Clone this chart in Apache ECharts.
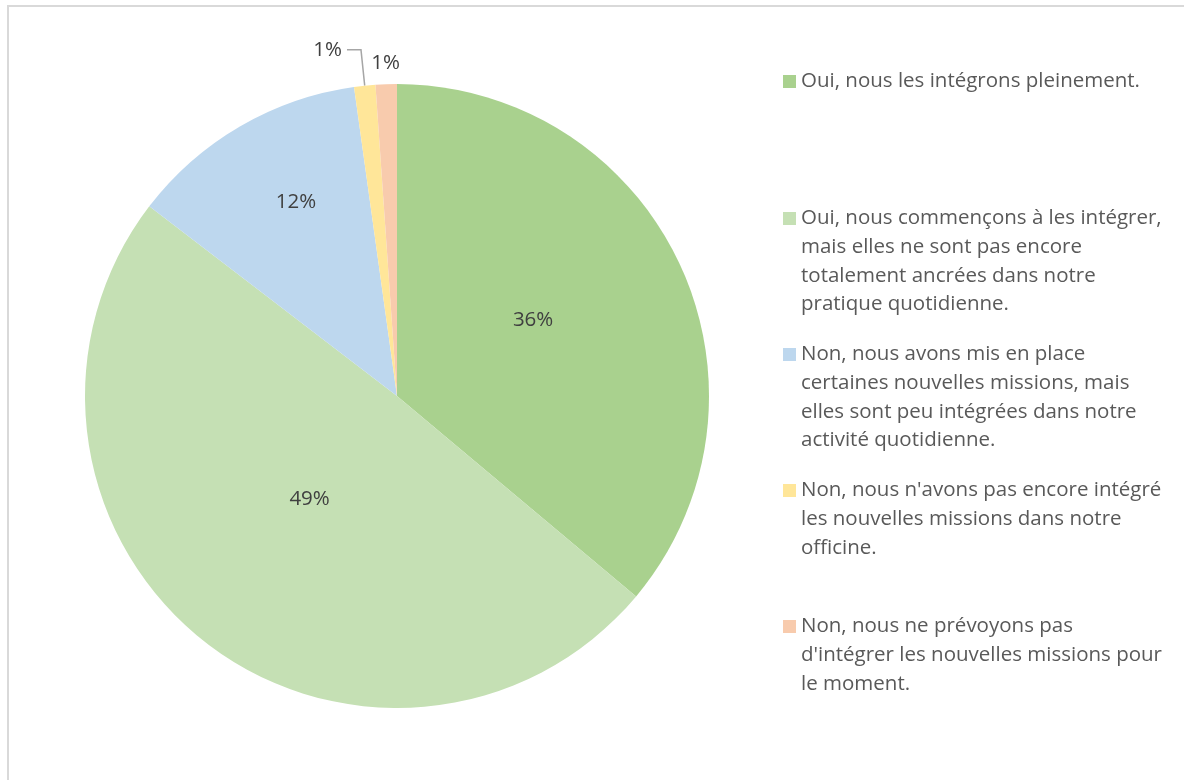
<!DOCTYPE html>
<html><head><meta charset="utf-8">
<script src="https://cdn.jsdelivr.net/npm/echarts@6/dist/echarts.min.js"></script>
<style>
html,body{margin:0;padding:0;background:#fff;}
#frame{position:absolute;left:7px;top:5px;width:1200px;height:800px;border:2px solid #D9D9D9;box-sizing:border-box;}
#chart{position:absolute;left:0;top:0;width:1184px;height:780px;}
</style></head>
<body>
<div id="frame"></div>
<div id="chart"></div>
<script>
const categories = [
  "Oui, nous les intégrons pleinement.",
  "Oui, nous commençons à les intégrer, mais elles ne sont pas encore totalement ancrées dans notre pratique quotidienne.",
  "Non, nous avons mis en place certaines nouvelles missions, mais elles sont peu intégrées dans notre activité quotidienne.",
  "Non, nous n'avons pas encore intégré les nouvelles missions dans notre officine.",
  "Non, nous ne prévoyons pas d'intégrer les nouvelles missions pour le moment."
];
const legendLines = [
  ["Oui, nous les intégrons pleinement."],
  ["Oui, nous commençons à les intégrer,", "mais elles ne sont pas encore", "totalement ancrées dans notre", "pratique quotidienne."],
  ["Non, nous avons mis en place", "certaines nouvelles missions, mais", "elles sont peu intégrées dans notre", "activité quotidienne."],
  ["Non, nous n'avons pas encore intégré", "les nouvelles missions dans notre", "officine."],
  ["Non, nous ne prévoyons pas", "d'intégrer les nouvelles missions pour", "le moment."]
];
const values = [36.1, 49.3, 12.4, 1.1, 1.1];
const colors = ["#A9D18E", "#C5E0B4", "#BDD7EE", "#FFE699", "#F8CBAD"];

const FONT = "'Open Sans', sans-serif";
const chart = echarts.init(document.getElementById('chart'));

const rich = { t: { fontSize: 20.5, lineHeight: 28.7, color: '#595959', fontFamily: FONT }, p: { width: 18 } };
colors.forEach((c, i) => { rich['s' + i] = { width: 13, height: 13, backgroundColor: c }; rich['g' + i] = { width: 5 }; });

const legendTops = [66, 203, 339, 475, 611];
const legends = categories.map((name, i) => ({
  data: [name],
  orient: 'vertical',
  left: 778,
  top: legendTops[i] + 5,
  padding: 0,
  icon: 'none',
  itemWidth: 0,
  itemHeight: 0,
  itemGap: 0,
  selectedMode: false,
  formatter: () => legendLines[i].map((ln, k) => (k === 0 ? '{s' + i + '|}{g' + i + '|}' : '{p|}') + '{t|' + ln + '}').join('\n'),
  textStyle: { rich: rich, padding: 0 }
}));

const labelOffsets = [[-8, -9], [12, -21], [-21, -56], [0, 0], [19, -11]];
const data = categories.map((name, i) => {
  const d = { name: name, value: values[i], itemStyle: { color: colors[i] } };
  if (i < 3) {
    d.label = { position: 'inner', offset: labelOffsets[i] };
  } else if (i === 3) {
    d.label = { position: 'outside' };
    d.labelLine = { show: true, length: 36, length2: 14 };
  } else {
    d.label = { position: 'outside', offset: labelOffsets[i] };
    d.labelLine = { show: false, length: 10, length2: 0 };
  }
  return d;
});

chart.setOption({
  animation: false,
  backgroundColor: 'transparent',
  legend: legends,
  series: [{
    type: 'pie',
    center: [397, 396],
    radius: [0, 312],
    startAngle: 90,
    clockwise: true,
    avoidLabelOverlap: false,
    data: data,
    label: {
      show: true,
      fontSize: 20.5,
      color: '#404040',
      fontFamily: FONT,
      formatter: p => Math.round(p.value) + '%'
    },
    labelLine: { lineStyle: { color: '#A6A6A6', width: 1.5 }, smooth: false },
    itemStyle: { borderWidth: 0 },
    emphasis: { disabled: true }
  }]
});
</script>
</body></html>
